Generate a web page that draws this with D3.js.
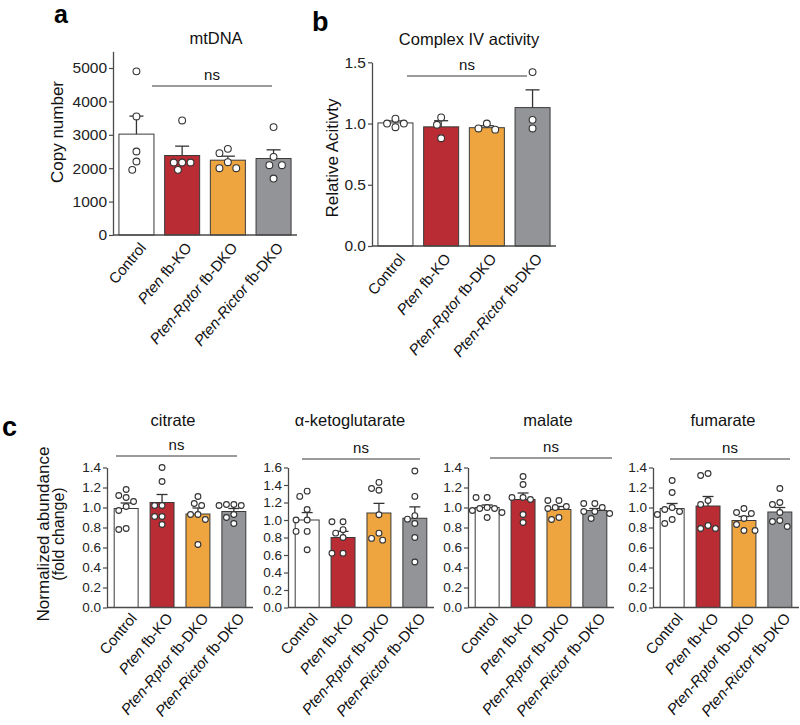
<!DOCTYPE html>
<html><head><meta charset="utf-8">
<script src="https://cdn.jsdelivr.net/npm/d3@7/dist/d3.min.js"></script>
<style>
body{margin:0;background:#fff;}
svg{display:block;font-family:"Liberation Sans",Arial,Helvetica,sans-serif;}
</style></head>
<body>
<svg id="chart" width="800" height="725"></svg>
<script>
// ---------- DATA ----------
const groupGene   = ["", "Pten", "Pten-Rptor", "Pten-Rictor"];
const groupSuffix = ["Control", " fb-KO", " fb-DKO", " fb-DKO"];
const groups = ["Control", "Pten fb-KO", "Pten-Rptor fb-DKO", "Pten-Rictor fb-DKO"];

// panel a: mtDNA copy number
const mtdnaMean = [3020, 2380, 2240, 2290];
const mtdnaSem  = [540, 280, 120, 260];
const mtdnaPts  = [
  [4900, 3550, 2500, 2200, 1950],
  [3430, 2170, 2170, 2170, 1950],
  [2580, 2450, 2180, 2000, 2000],
  [3230, 2340, 2090, 2090, 1690]
];
const mtdnaTicks = [0, 1000, 2000, 3000, 4000, 5000];

// panel b: Complex IV activity
const ciMean = [1.005, 0.973, 0.966, 1.13];
const ciSem  = [0.016, 0.05, 0.016, 0.145];
const ciPts  = [
  [1.00, 1.04, 0.97, 1.00],
  [1.05, 0.99, 0.88],
  [1.00, 0.95, 0.96],
  [1.42, 1.03, 0.96]
];
const ciTicks = [0.0, 0.5, 1.0, 1.5];

// panel c: metabolites
const citrateMean = [0.99, 1.05, 0.935, 0.96];
const citrateSem  = [0.055, 0.08, 0.06, 0.03];
const citratePts  = [
  [1.18, 1.12, 1.10, 1.06, 1.01, 0.97, 0.78, 0.79],
  [1.40, 1.26, 1.02, 1.02, 0.91, 0.91, 0.83],
  [1.11, 1.04, 1.02, 0.93, 0.93, 0.88, 0.63],
  [1.03, 1.02, 1.02, 1.03, 0.93, 0.90, 0.84]
];
const akgMean = [1.00, 0.80, 1.08, 1.02];
const akgSem  = [0.085, 0.07, 0.11, 0.13];
const akgPts  = [
  [1.33, 1.27, 1.12, 1.00, 1.00, 0.87, 0.87, 0.66],
  [0.98, 0.98, 0.89, 0.85, 0.80, 0.62, 0.62],
  [1.43, 1.34, 1.36, 1.06, 0.85, 0.77, 0.79],
  [1.56, 1.27, 1.05, 1.01, 0.96, 0.80, 0.52]
];
const malateMean = [1.00, 1.08, 0.98, 0.97];
const malateSem  = [0.025, 0.065, 0.03, 0.02];
const malatePts  = [
  [1.10, 1.10, 1.00, 0.99, 0.99, 0.97, 0.95, 0.90],
  [1.31, 1.23, 1.10, 1.08, 1.10, 0.93, 0.85],
  [1.07, 1.07, 1.00, 0.99, 1.01, 0.88, 0.90],
  [1.04, 1.00, 1.04, 0.96, 0.94, 0.96, 0.89]
];
const fumarateMean = [0.99, 1.015, 0.87, 0.955];
const fumarateSem  = [0.05, 0.095, 0.04, 0.045];
const fumaratePts  = [
  [1.27, 1.15, 1.00, 0.98, 0.96, 0.93, 0.88, 0.84],
  [1.32, 1.34, 1.07, 1.03, 0.82, 0.79, 0.79],
  [0.99, 0.95, 0.94, 0.89, 0.83, 0.77, 0.77],
  [1.19, 1.05, 1.03, 0.95, 0.87, 0.86, 0.81]
];
const ticks14 = [0.0, 0.2, 0.4, 0.6, 0.8, 1.0, 1.2, 1.4];
const ticks16 = [0.0, 0.2, 0.4, 0.6, 0.8, 1.0, 1.2, 1.4, 1.6];

// ---------- STYLE ----------
const barColors = ["#ffffff", "#BA2C33", "#EEA53F", "#929497"];
const axisColor = "#4a4a4a";
const nsColor = "#7a7a7a";

const svg = d3.select("#chart");

function drawPanel(cfg) {
  const g = svg.append("g");
  const x = d3.scaleBand().domain(groups).range([cfg.x0, cfg.x1])
    .paddingInner(cfg.pi).paddingOuter(cfg.po);
  const y = d3.scaleLinear().domain([0, cfg.ymax]).range([cfg.yb, cfg.yt]);

  // bars
  g.selectAll("rect.bar").data(cfg.mean).join("rect")
    .attr("x", (d, i) => x(groups[i]))
    .attr("y", d => y(d))
    .attr("width", x.bandwidth())
    .attr("height", d => y(0) - y(d))
    .attr("fill", (d, i) => barColors[i])
    .attr("stroke", "#3a3a3a").attr("stroke-width", 1);

  // error bars
  cfg.mean.forEach((m, i) => {
    const cx = x(groups[i]) + x.bandwidth() / 2;
    g.append("line").attr("x1", cx).attr("x2", cx)
      .attr("y1", y(m)).attr("y2", y(m + cfg.sem[i]))
      .attr("stroke", "#333").attr("stroke-width", 1.3);
    g.append("line").attr("x1", cx - cfg.cap).attr("x2", cx + cfg.cap)
      .attr("y1", y(m + cfg.sem[i])).attr("y2", y(m + cfg.sem[i]))
      .attr("stroke", "#333").attr("stroke-width", 1.3);
  });

  // points (beeswarm-like placement)
  const r = cfg.r;
  cfg.pts.forEach((arr, i) => {
    const cx = x(groups[i]) + x.bandwidth() / 2;
    const placed = [];
    const sorted = arr.map(v => v).sort((a, b) => b - a);
    const s = 2 * r + 1.6;
    const cands = [0];
    for (let k = 1; k < 10; k++) { cands.push(-k * s / 2, k * s / 2); }
    sorted.forEach(v => {
      const py = y(v);
      let px = cx;
      for (const off of cands) {
        const tx = cx + off;
        if (placed.every(p => Math.hypot(p[0] - tx, p[1] - py) >= s)) { px = tx; break; }
      }
      placed.push([px, py]);
    });
    g.selectAll(null).data(placed).join("circle")
      .attr("cx", d => d[0]).attr("cy", d => d[1]).attr("r", r)
      .attr("fill", "#fff").attr("stroke", "#333").attr("stroke-width", 1.1);
  });

  // axes
  const yAxis = d3.axisLeft(y).tickValues(cfg.ticks).tickFormat(d3.format(cfg.fmt))
    .tickSize(4).tickPadding(2).tickSizeOuter(0);
  const ya = g.append("g").attr("transform", `translate(${cfg.x0},0)`).call(yAxis);
  ya.select(".domain").attr("stroke", axisColor).attr("stroke-width", 1.3);
  ya.selectAll(".tick line").attr("stroke", axisColor).attr("stroke-width", 1.2);
  ya.selectAll(".tick text").attr("fill", "#222").attr("font-size", cfg.tickFs)
    .attr("font-family", "Liberation Sans, Arial, sans-serif");

  g.append("line").attr("x1", cfg.x0).attr("x2", cfg.x1)
    .attr("y1", cfg.yb).attr("y2", cfg.yb)
    .attr("stroke", axisColor).attr("stroke-width", 1.3);

  // x labels
  groups.forEach((gname, i) => {
    const cx = x(gname) + x.bandwidth() / 2;
    const t = g.append("text")
      .attr("transform", `translate(${cx + cfg.lx},${cfg.yb + cfg.ly}) rotate(-50)`)
      .attr("text-anchor", "end").attr("dominant-baseline", "hanging")
      .attr("font-size", cfg.labFs).attr("fill", "#111");
    if (groupGene[i]) t.append("tspan").attr("font-style", "italic").text(groupGene[i]);
    t.append("tspan").text(groupSuffix[i]);
  });

  // title
  g.append("text").attr("x", cfg.titleX).attr("y", cfg.titleY)
    .attr("text-anchor", "middle").attr("font-size", cfg.titleFs).attr("fill", "#111")
    .text(cfg.title);

  // ns
  g.append("line").attr("x1", cfg.ns[0]).attr("x2", cfg.ns[1])
    .attr("y1", cfg.ns[2]).attr("y2", cfg.ns[2])
    .attr("stroke", nsColor).attr("stroke-width", 1.3);
  g.append("text").attr("x", (cfg.ns[0] + cfg.ns[1]) / 2).attr("y", cfg.ns[2] - 6)
    .attr("text-anchor", "middle").attr("font-size", cfg.nsFs).attr("fill", "#111").text("ns");
}

// panel a
drawPanel({x0: 113, x1: 297, pi: 0.234, po: 0.13, yb: 235, yt: 235 - 5.5 * 33.4, ymax: 5500,
  mean: mtdnaMean, sem: mtdnaSem, pts: mtdnaPts, ticks: mtdnaTicks, fmt: "d",
  cap: 7, r: 3.4, tickFs: 15.5, labFs: 15, lx: 2, ly: 6,
  title: "mtDNA", titleX: 216, titleY: 44, titleFs: 16.5,
  ns: [152, 272, 86], nsFs: 15});

// panel b
drawPanel({x0: 372, x1: 556, pi: 0.234, po: 0.13, yb: 246, yt: 62.3, ymax: 1.5,
  mean: ciMean, sem: ciSem, pts: ciPts, ticks: ciTicks, fmt: ".1f",
  cap: 7, r: 3.4, tickFs: 15.5, labFs: 15, lx: 2, ly: 6,
  title: "Complex IV activity", titleX: 469, titleY: 45, titleFs: 16.5,
  ns: [407, 527, 76], nsFs: 15});

// panel c
const cPanels = [
  {x0: 107, mean: citrateMean, sem: citrateSem, pts: citratePts, ymax: 1.4, ticks: ticks14,
   title: "citrate", titleX: 173, ns: [116, 237, 456]},
  {x0: 288, mean: akgMean, sem: akgSem, pts: akgPts, ymax: 1.6, ticks: ticks16,
   title: "α-ketoglutarate", titleX: 350, ns: [302, 420, 459]},
  {x0: 468, mean: malateMean, sem: malateSem, pts: malatePts, ymax: 1.4, ticks: ticks14,
   title: "malate", titleX: 548, ns: [490, 612, 458]},
  {x0: 653, mean: fumarateMean, sem: fumarateSem, pts: fumaratePts, ymax: 1.4, ticks: ticks14,
   title: "fumarate", titleX: 723, ns: [670, 790, 459]}
];
cPanels.forEach(p => drawPanel(Object.assign({
  x1: p.x0 + 146, pi: 0.333, po: 0.2, yb: 607.5, yt: 467.5, fmt: ".1f",
  cap: 5.5, r: 2.9, tickFs: 13.5, labFs: 15, lx: 3, ly: 4,
  titleY: 426, titleFs: 16.5, nsFs: 15}, p)));

// panel letters
svg.append("text").attr("x", 54).attr("y", 23).attr("font-size", 25).attr("font-weight", "bold").text("a");
svg.append("text").attr("x", 312).attr("y", 31).attr("font-size", 27).attr("font-weight", "bold").text("b");
svg.append("text").attr("x", 2).attr("y", 436).attr("font-size", 27).attr("font-weight", "bold").text("c");

// y labels
svg.append("text").attr("transform", "translate(63,132) rotate(-90)")
  .attr("text-anchor", "middle").attr("font-size", 17).attr("fill", "#111").text("Copy number");
svg.append("text").attr("transform", "translate(338,158) rotate(-90)")
  .attr("text-anchor", "middle").attr("font-size", 17).attr("fill", "#111").text("Relative Acitivty");
svg.append("text").attr("transform", "translate(49,534) rotate(-90)")
  .attr("text-anchor", "middle").attr("font-size", 17).attr("fill", "#111").text("Normalized abundance");
svg.append("text").attr("transform", "translate(64,534) rotate(-90)")
  .attr("text-anchor", "middle").attr("font-size", 16).attr("fill", "#111").text("(fold change)");
</script>
</body></html>
